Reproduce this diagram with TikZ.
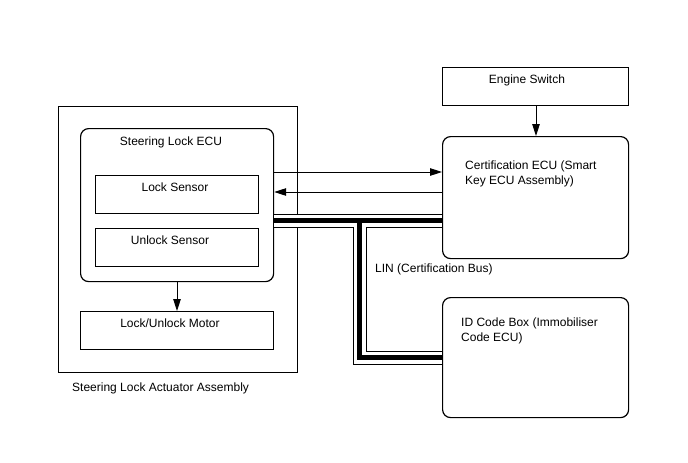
\documentclass[tikz,border=0pt]{standalone}
\usepackage{fontspec}
\setmainfont{Liberation Sans}
\usetikzlibrary{arrows.meta}
\begin{document}
\begin{tikzpicture}[x=1pt,y=-1pt,
  box/.style={draw=black,line width=1.2pt,inner sep=0pt,anchor=north west},
  rbox/.style={box,rounded corners=8pt},
  lbl/.style={font=\fontsize{12}{15}\selectfont,inner sep=0pt},
  arr/.style={draw=black,line width=0.9pt,-{Triangle[length=12pt,width=7.5pt]}},
  buscore/.style={draw=black,line width=5pt,line cap=butt,line join=miter,
    preaction={draw=white,line width=12pt,
      preaction={draw=black,line width=14pt}}}
]
\useasboundingbox (0,0) rectangle (688,463);
\fill[white] (0,0) rectangle (688,463);

% left assembly
\node[box,minimum width=239pt,minimum height=266pt] (act) at (58,106) {};
\node[rbox,minimum width=193pt,minimum height=153pt] (ecu) at (80,128) {};
\node[box,minimum width=163pt,minimum height=38pt] (ls) at (95,174.5) {};
\node[box,minimum width=163pt,minimum height=38pt] (us) at (95,228) {};
\node[box,minimum width=193pt,minimum height=38pt] (mot) at (80,311) {};

\node[lbl,anchor=base] (tecu) at (171,145.5) {Steering Lock ECU};
\node[lbl,anchor=base] (tls) at (175,191.5) {Lock Sensor};
\node[lbl,anchor=base] (tus) at (170,244.5) {Unlock Sensor};
\node[lbl,anchor=base] (tmot) at (170,327.5) {Lock/Unlock Motor};
\node[lbl,anchor=base west] (tact) at (72,391.5) {Steering Lock Actuator Assembly};

% right side
\node[box,minimum width=186pt,minimum height=38pt] (eng) at (442,67) {};
\node[rbox,minimum width=186pt,minimum height=122pt] (cert) at (442,136) {};
\node[rbox,minimum width=186pt,minimum height=120pt] (idb) at (442,297) {};

\node[lbl,anchor=base] (teng) at (527,83.5) {Engine Switch};
\node[lbl,anchor=north west,align=left] (tcert) at (465,160.5) {Certification ECU (Smart\\Key ECU Assembly)};
\node[lbl,anchor=north west,align=left] (tidb) at (461,317.5) {ID Code Box (Immobiliser\\Code ECU)};
\node[lbl,anchor=base west] (tlin) at (375,272.5) {LIN (Certification Bus)};

% connectors
\coordinate (ya) at (0,172);
\coordinate (yb) at (0,192);
\coordinate (yc) at (0,220.5);
\coordinate (yd) at (0,357.5);
\coordinate (bx) at (359.5,0);
\draw[arr] (eng.south -| 536,0) -- (cert.north -| 536,0);
\draw[arr] (ecu.south -| 177,0) -- (mot.north -| 177,0);
\draw[arr] (ecu.east |- ya) -- (cert.west |- ya);
\draw[arr] (cert.west |- yb) -- (ecu.east |- yb);
\draw[buscore] (ecu.east |- yc) -- (cert.west |- yc)
  (bx |- yc) -- (bx |- yd) -- (idb.west |- yd);
\end{tikzpicture}
\end{document}
